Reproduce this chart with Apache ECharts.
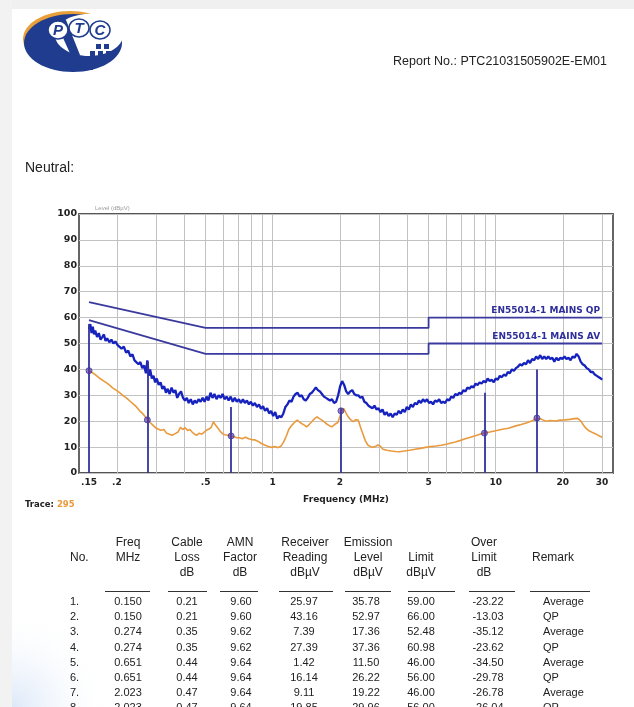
<!DOCTYPE html>
<html><head><meta charset="utf-8">
<script src="https://cdn.jsdelivr.net/npm/echarts@6/dist/echarts.min.js"></script>
<style>html,body{margin:0;padding:0;background:#fff}#c{width:634px;height:707px}</style>
</head><body><div id="c"></div>
<script>
// ---------- DATA ----------
const xTickFreqs = [0.15, 0.2, 0.5, 1, 2, 5, 10, 20, 30];
const xTickText  = ['.15', '.2', '.5', '1', '2', '5', '10', '20', '30'];
const gridFreqs  = [0.2,0.3,0.4,0.5,0.6,0.7,0.8,0.9,1,2,3,4,5,6,7,8,9,10,20,30];
const X_MIN = 0.1353, X_MAX = 33.57;

const qpFreq  = [0.15, 0.5, 5, 5, 30];
const qpLevel = [66, 56, 56, 60, 60];
const avFreq  = [0.15, 0.5, 5, 5, 30];
const avLevel = [59, 46, 46, 50, 50];

const blueFreq = [0.150,0.152,0.154,0.156,0.158,0.160,0.163,0.166,0.169,0.172,0.175,0.178,0.181,0.185,0.189,0.193,0.197,
0.201,0.205,0.210,0.215,0.220,0.225,0.230,0.235,0.240,0.245,0.250,0.255,0.260,0.265,0.270,0.274,0.278,0.282,0.287,0.292,0.297,0.302,0.308,0.314,0.320,0.326,0.332,0.338,0.345,0.352,0.359,0.366,0.373,0.380,0.388,0.396,0.404,0.412,0.420,0.429,0.438,0.447,0.456,0.465,
0.475,0.485,0.495,0.505,0.515,0.526,0.537,0.548,0.560,0.572,0.584,0.596,0.608,0.621,0.634,0.648,0.662,0.676,0.690,0.705,0.720,0.735,0.750,0.766,0.782,0.798,0.815,0.832,0.850,0.868,0.886,0.905,0.924,0.944,0.964,0.984,
1.005,1.026,1.048,1.070,1.093,1.116,1.140,1.164,1.189,1.214,1.240,1.266,1.293,1.320,1.348,1.377,1.406,1.436,1.466,1.497,1.529,1.561,1.594,1.628,1.662,1.697,1.733,1.770,1.807,1.845,1.884,1.924,1.965,
2.006,2.048,2.091,2.135,2.180,2.226,2.273,2.321,2.370,2.420,2.471,2.523,2.576,2.630,2.686,2.742,2.800,2.859,2.920,2.981,3.044,3.108,3.174,3.241,3.309,3.379,3.450,3.523,3.597,3.673,3.750,3.829,3.910,3.992,
4.077,4.163,4.250,4.340,4.431,4.525,4.620,4.718,4.817,4.919,5.023,5.129,5.237,5.347,5.460,5.575,5.693,5.813,5.935,6.060,6.188,6.319,6.452,6.588,6.727,6.869,7.014,7.162,7.313,7.467,7.625,7.786,7.950,
8.118,8.289,8.464,8.643,8.825,9.011,9.202,9.396,9.594,9.797,10.00,10.21,10.43,10.65,10.87,11.10,11.33,11.57,11.82,12.07,12.32,12.58,12.85,13.12,13.39,13.68,13.96,14.26,14.56,14.87,15.18,15.50,15.83,16.16,16.50,16.85,17.21,17.57,17.94,
18.32,18.71,19.10,19.51,19.92,20.34,20.77,21.21,21.65,22.11,22.58,23.05,23.54,24.04,24.54,25.06,25.59,26.13,26.68,27.25,27.82,28.41,29.01,29.62,30.00];
const blueLevel = [55.5,57.5,54.0,56.5,53.5,55.0,52.5,54.0,51.5,52.5,53.5,51.0,52.0,50.5,51.5,50.0,50.8,
49.5,50.2,48.0,48.8,46.5,47.2,45.0,45.8,43.5,44.2,42.0,42.8,40.5,41.5,38.5,43.5,37.5,40.0,36.5,37.5,35.0,36.5,34.0,35.0,32.5,33.5,31.0,32.5,30.5,33.0,31.0,32.0,29.0,30.5,31.5,29.0,28.0,29.0,27.0,28.5,26.5,28.0,27.0,28.5,
27.5,29.0,27.5,29.5,28.0,31.0,29.0,30.5,28.5,30.0,29.0,30.5,28.5,29.5,28.0,29.5,27.5,29.0,27.5,28.5,27.0,28.5,27.0,28.0,26.5,27.5,26.0,27.0,25.5,26.5,24.8,25.8,24.0,25.0,23.0,24.0,
22.0,23.5,21.0,22.0,21.5,23.0,25.5,26.5,28.0,27.5,29.5,30.5,31.0,29.5,30.0,28.5,28.0,29.0,30.5,31.0,32.0,33.0,32.0,31.5,30.5,29.5,29.0,28.5,28.0,28.5,27.0,27.5,30.0,
33.5,35.5,34.0,31.5,30.5,31.5,32.0,30.5,30.0,30.0,29.0,29.5,27.5,27.0,26.0,26.5,25.0,26.0,24.5,25.0,23.5,24.5,22.5,23.5,22.0,23.0,21.5,23.0,22.5,24.0,23.0,24.5,23.5,25.5,
24.5,26.5,25.5,27.0,26.5,28.0,27.0,28.5,27.5,28.5,27.0,27.5,26.5,28.0,27.5,28.5,27.0,27.5,27.0,28.5,28.0,29.5,29.0,30.5,30.0,31.0,30.5,32.0,31.5,33.0,32.5,33.5,33.0,
34.5,34.0,35.0,34.5,35.5,35.0,36.5,35.5,36.0,35.0,36.5,36.0,37.5,37.0,38.0,37.5,39.0,38.5,40.0,39.5,40.5,41.0,42.0,41.5,42.5,42.0,43.5,42.5,44.0,43.5,45.0,44.0,45.5,44.0,45.0,44.0,45.0,44.0,44.5,
43.0,44.5,43.5,44.5,44.0,45.0,44.0,44.5,43.5,45.0,44.5,46.0,45.0,43.0,42.0,41.5,40.5,40.0,39.0,39.0,38.0,37.5,37.0,36.5,36.0];

const orangeFreq = [0.150,0.155,0.160,0.165,0.170,0.175,0.180,0.186,0.192,0.200,0.207,0.214,0.222,0.230,0.238,0.245,0.253,0.262,0.274,0.282,0.290,0.298,0.306,0.315,0.325,0.334,0.344,0.354,0.365,0.376,0.386,0.395,0.405,0.415,0.425,0.435,0.446,0.457,0.469,0.481,0.493,
0.506,0.518,0.530,0.542,0.553,0.565,0.580,0.595,0.610,0.630,0.651,0.670,0.690,0.710,0.730,0.755,0.780,0.805,0.830,0.860,0.890,0.920,0.950,0.985,1.020,1.055,1.090,1.120,1.150,1.180,1.220,1.260,1.290,1.330,1.380,1.420,1.460,1.500,1.540,1.580,1.620,1.670,1.720,1.780,1.840,1.900,1.960,
2.023,2.080,2.130,2.180,2.240,2.300,2.360,2.420,2.480,2.540,2.600,2.670,2.740,2.800,2.880,2.960,3.040,3.120,3.250,3.400,3.550,3.700,3.900,4.100,4.350,4.600,4.850,5.100,5.400,5.700,6.000,6.300,6.600,6.900,7.300,7.700,8.100,8.500,8.900,9.400,
10.00,10.70,11.40,12.20,13.00,13.80,14.60,15.30,16.00,16.80,17.60,18.50,19.50,20.50,21.50,22.50,23.30,24.00,24.60,25.30,26.20,27.20,28.20,29.20,30.00];
const orangeLevel = [39.5,38.8,38.0,37.0,36.2,35.5,34.8,33.8,32.8,31.8,30.8,29.8,28.8,27.6,26.5,25.5,24.0,22.8,20.8,19.5,18.5,17.5,17.0,16.5,16.8,15.4,15.0,14.6,15.2,15.8,17.6,16.8,17.5,16.4,16.8,15.8,15.0,14.6,15.4,15.0,15.8,
16.6,17.0,17.6,19.8,18.6,17.6,16.2,15.2,14.8,14.6,14.3,14.0,13.6,13.6,13.2,13.8,13.2,12.9,12.8,12.2,11.4,10.8,10.3,9.9,10.2,9.8,10.4,12.0,14.2,16.8,18.5,19.8,20.4,19.4,18.6,17.8,18.8,19.9,21.0,21.7,21.0,20.3,19.4,18.4,17.8,18.8,19.5,
23.0,25.0,23.2,21.7,20.5,19.8,20.6,20.4,17.5,15.0,12.5,10.8,10.2,9.9,10.2,10.8,10.3,9.2,8.8,8.5,8.3,8.2,8.5,8.8,9.2,9.5,9.9,10.2,10.4,10.7,11.1,11.6,12.0,12.5,13.2,13.8,14.4,15.0,15.4,15.8,
16.3,16.9,17.3,18.1,18.7,19.4,20.2,21.1,20.8,20.0,20.3,20.1,20.4,20.5,20.7,21.0,21.1,20.2,18.8,17.4,16.3,15.6,15.0,14.3,13.8];

const markerFreq = [0.150, 0.274, 0.651, 2.023, 8.9, 15.3];
const markerTop  = [57.5, 43.0, 25.5, 25.0, 31.0, 40.0];
const markerAvg  = [39.5, 20.5, 14.3, 24.0, 15.4, 21.2];

const tblHeaders = [
  ['No.'], ['Freq','MHz'], ['Cable','Loss','dB'], ['AMN','Factor','dB'], ['Receiver','Reading','dBµV'],
  ['Emission','Level','dBµV'], ['Limit','dBµV'], ['Over','Limit','dB'], ['Remark']
];
const tblNo       = ['1.','2.','3.','4.','5.','6.','7.','8.'];
const tblFreq     = ['0.150','0.150','0.274','0.274','0.651','0.651','2.023','2.023'];
const tblCable    = ['0.21','0.21','0.35','0.35','0.44','0.44','0.47','0.47'];
const tblAmn      = ['9.60','9.60','9.62','9.62','9.64','9.64','9.64','9.64'];
const tblReading  = ['25.97','43.16','7.39','27.39','1.42','16.14','9.11','19.85'];
const tblEmission = ['35.78','52.97','17.36','37.36','11.50','26.22','19.22','29.96'];
const tblLimit    = ['59.00','66.00','52.48','60.98','46.00','56.00','46.00','56.00'];
const tblOver     = ['-23.22','-13.03','-35.12','-23.62','-34.50','-29.78','-26.78','-26.04'];
const tblRemark   = ['Average','QP','Average','QP','Average','QP','Average','QP'];

// ---------- CHART ----------
const lg = Math.log10;
const pair = (fs, vs) => fs.map((f, i) => [lg(f), vs[i]]);
const BOLD = '"DejaVu Sans", Verdana, sans-serif';
const SANS = '"Liberation Sans", Arial, sans-serif';
const LIMIT_COLOR = '#3a3a9e';
const LOGO_BLUE = '#1f3c8e';

const chart = echarts.init(document.getElementById('c'), null, {renderer: 'canvas'});
chart.setOption({
  animation: false,
  backgroundColor: '#ffffff',
  grid: {left: 79, right: 21, top: 214, bottom: 234, show: true, borderColor: '#555555', borderWidth: 1.8, backgroundColor: 'transparent'},
  xAxis: {
    type: 'value', min: lg(X_MIN), max: lg(X_MAX),
    axisLine: {show: false},
    axisTick: {show: false, customValues: gridFreqs.map(lg)},
    splitLine: {show: true, lineStyle: {color: '#c2c2c2', width: 1}},
    axisLabel: {
      customValues: xTickFreqs.map(lg),
      formatter: v => { const i = xTickFreqs.findIndex(f => Math.abs(lg(f) - v) < 1e-6); return i >= 0 ? xTickText[i] : ''; },
      color: '#222', fontFamily: BOLD, fontWeight: 'bold', fontSize: 9, margin: 5
    },
    name: 'Frequency (MHz)', nameLocation: 'middle', nameGap: 22,
    nameTextStyle: {color: '#222', fontFamily: BOLD, fontWeight: 'bold', fontSize: 9}
  },
  yAxis: {
    type: 'value', min: 0, max: 100, interval: 10,
    axisLine: {show: false}, axisTick: {show: false},
    splitLine: {show: true, lineStyle: {color: '#c2c2c2', width: 1}},
    axisLabel: {color: '#222', fontFamily: BOLD, fontWeight: 'bold', fontSize: 9.5, margin: 2}
  },
  series: [
    {name: 'QP limit', type: 'line', data: pair(qpFreq, qpLevel), symbol: 'none', z: 3,
     lineStyle: {color: LIMIT_COLOR, width: 1.8}},
    {name: 'AV limit', type: 'line', data: pair(avFreq, avLevel), symbol: 'none', z: 3,
     lineStyle: {color: LIMIT_COLOR, width: 1.8}},
    {name: 'Peak', type: 'line', data: pair(blueFreq, blueLevel), symbol: 'none', z: 4,
     lineStyle: {color: '#1622bd', width: 2.3}},
    {name: 'Average', type: 'line', data: pair(orangeFreq, orangeLevel), symbol: 'none', z: 5,
     lineStyle: {color: '#e99a3c', width: 1.6}},
    {name: 'Markers', type: 'scatter', data: pair(markerFreq, markerAvg), z: 7,
     symbol: 'circle', symbolSize: 6,
     itemStyle: {color: 'rgba(90,55,160,0.8)', borderColor: LIMIT_COLOR, borderWidth: 1},
     markLine: {
       silent: true, symbol: ['none', 'none'], animation: false, z: 6,
       lineStyle: {color: '#34349c', width: 1.8, type: 'solid'},
       label: {show: false},
       data: markerFreq.map((f, i) => [{coord: [lg(f), 0]}, {coord: [lg(f), markerTop[i]]}])
     }}
  ]
});

// ---------- PAGE DECORATION / TEXT ----------
const G = [];
function txt(x, y, s, st) {
  G.push({type: 'text', x: x, y: y, silent: true, z: 10,
    style: Object.assign({text: s, fill: '#222', font: '12px ' + SANS, textAlign: 'left', textVerticalAlign: 'middle'}, st || {})});
}
// page edges
G.push({type: 'rect', shape: {x: 0, y: 0, width: 634, height: 9}, style: {fill: '#f0f0f0'}, silent: true, z: 1});
G.push({type: 'rect', shape: {x: 0, y: 0, width: 12, height: 707}, style: {fill: '#f2f2f2'}, silent: true, z: 1});
G.push({type: 'rect', shape: {x: 12, y: 540, width: 110, height: 167},
  style: {fill: new echarts.graphic.RadialGradient(0, 1, 0.9, [{offset: 0, color: 'rgba(214,228,247,0.85)'}, {offset: 1, color: 'rgba(255,255,255,0)'}])},
  silent: true, z: 1});

// logo
G.push({type: 'ellipse', shape: {cx: 70, cy: 39, rx: 47, ry: 28}, style: {fill: '#e9a03a'}, silent: true, z: 2});
G.push({type: 'ellipse', shape: {cx: 73, cy: 43, rx: 49, ry: 29}, style: {fill: LOGO_BLUE}, silent: true, z: 3});
G.push({type: 'ellipse', shape: {cx: 89, cy: 35, rx: 34, ry: 21}, style: {fill: '#ffffff'}, silent: true, z: 4});
G.push({type: 'polygon', shape: {points: [[55, 20], [66, 20], [80, 55], [73, 60]]}, style: {fill: LOGO_BLUE}, silent: true, z: 5});
[[58, 30, 'P'], [79, 28, 'T'], [100, 30, 'C']].forEach(p => {
  G.push({type: 'ellipse', shape: {cx: p[0], cy: p[1], rx: 10, ry: 9}, style: {fill: '#ffffff', stroke: LOGO_BLUE, lineWidth: 1.5}, silent: true, z: 6});
  txt(p[0], p[1] + 1, p[2], {font: 'italic bold 15px ' + SANS, fill: LOGO_BLUE, textAlign: 'center'});
});
[[96, 44], [104, 44], [90, 51], [98, 51], [106, 51], [84, 58], [92, 58], [100, 58], [80, 65], [88, 65]].forEach(p => {
  G.push({type: 'rect', shape: {x: p[0], y: p[1], width: 5, height: 5}, style: {fill: LOGO_BLUE}, silent: true, z: 6});
});

// header texts
txt(393, 62, 'Report No.: PTC21031505902E-EM01', {font: '12.5px ' + SANS});
txt(25, 168, 'Neutral:', {font: '14px ' + SANS});
txt(95, 208, 'Level (dBµV)', {font: '6px ' + SANS, fill: '#9a9a9a'});
txt(25, 505, '{a|Trace:} {b|295}', {font: 'bold 8.5px ' + BOLD,
  rich: {a: {fill: '#222', font: 'bold 8.5px ' + BOLD}, b: {fill: '#e99a3c', font: 'bold 8.5px ' + BOLD}}});

// limit labels positioned through the chart's own scales
const pQP = chart.convertToPixel({gridIndex: 0}, [lg(qpFreq[qpFreq.length - 1]), qpLevel[qpLevel.length - 1]]);
const pAV = chart.convertToPixel({gridIndex: 0}, [lg(avFreq[avFreq.length - 1]), avLevel[avLevel.length - 1]]);
txt(pQP[0] - 2, pQP[1] - 2, 'EN55014-1 MAINS QP', {font: 'bold 9px ' + BOLD, fill: '#2f2f9c', textAlign: 'right', textVerticalAlign: 'bottom'});
txt(pAV[0] - 2, pAV[1] - 2, 'EN55014-1 MAINS AV', {font: 'bold 9px ' + BOLD, fill: '#2f2f9c', textAlign: 'right', textVerticalAlign: 'bottom'});

// table
const colX     = [70, 128, 187, 240, 305, 368, 421, 484, 532];
const colAlign = ['left', 'center', 'center', 'center', 'center', 'center', 'center', 'center', 'left'];
const headY    = [543, 557.5, 572.5];
tblHeaders.forEach((lines, c) => {
  const start = lines.length === 1 ? 1 : (c === 6 ? 1 : 0);
  lines.forEach((s, k) => txt(colX[c], headY[start + k], s, {font: '12px ' + SANS, textAlign: colAlign[c]}));
});
const ulines = [[105, 150], [168, 207], [220, 258], [279, 333], [345, 391], [408, 455], [469, 515], [530, 590]];
ulines.forEach(u => G.push({type: 'line', shape: {x1: u[0], y1: 591.5, x2: u[1], y2: 591.5}, style: {stroke: '#333', lineWidth: 1.2}, silent: true, z: 10}));
const valX = [70, 128, 187, 241, 304, 366, 421, 488, 543];
const cols = [tblNo, tblFreq, tblCable, tblAmn, tblReading, tblEmission, tblLimit, tblOver, tblRemark];
cols.forEach((arr, c) => arr.forEach((s, r) => {
  txt(valX[c], 602 + r * 15.2, s, {font: '11px ' + SANS, textAlign: (c === 0 || c === 8) ? 'left' : 'center'});
}));

chart.setOption({graphic: G});
</script></body></html>
